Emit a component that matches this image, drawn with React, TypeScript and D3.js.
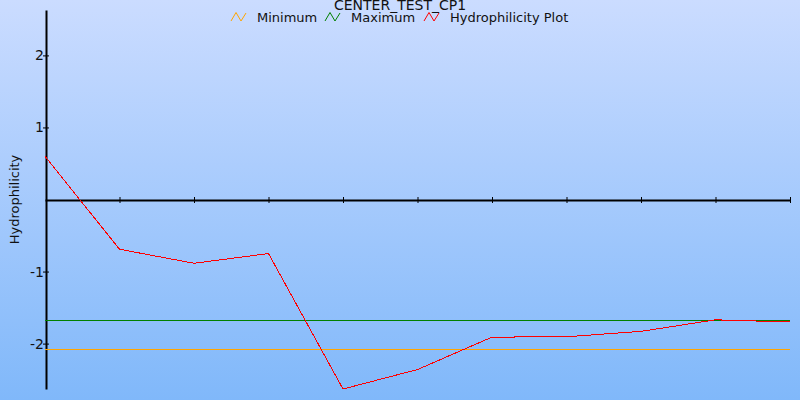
import { useEffect, useRef } from 'react';
import * as d3 from 'd3';

const title = 'CENTER_TEST_CP1';
const yLabel = 'Hydrophilicity';
const positions = [0, 1, 2, 3, 4, 5, 6, 7, 8, 9, 10];
const hydrophilicity = [0.6, -0.69, -0.885, -0.75, -2.63, -2.36, -1.91, -1.905, -1.83, -1.67, -1.7];
const minimum = [-2.08, -2.08, -2.08, -2.08, -2.08, -2.08, -2.08, -2.08, -2.08, -2.08, -2.08];
const maximum = [-1.675, -1.675, -1.675, -1.675, -1.675, -1.675, -1.675, -1.675, -1.675, -1.675, -1.675];
const yTicks = [-2, -1, 1, 2];
const legendItems = [
  { label: 'Minimum', color: '#ffa500', x: 231 },
  { label: 'Maximum', color: '#008000', x: 325 },
  { label: 'Hydrophilicity Plot', color: '#ff0000', x: 424 },
];

const width = 800;
const height = 400;

export default function App() {
  const svgRef = useRef<SVGSVGElement>(null);

  useEffect(() => {
    if (!svgRef.current) return;
    const svg = d3.select(svgRef.current);
    svg.selectAll('*').remove();

    const font = '"DejaVu Sans", Verdana, sans-serif';

    const defs = svg.append('defs');
    const grad = defs
      .append('linearGradient')
      .attr('id', 'bg')
      .attr('x1', 0)
      .attr('y1', 0)
      .attr('x2', 0)
      .attr('y2', 1);
    grad.append('stop').attr('offset', '0%').attr('stop-color', '#cbdcff');
    grad.append('stop').attr('offset', '100%').attr('stop-color', '#80b8fa');

    svg
      .append('rect')
      .attr('width', width)
      .attr('height', height)
      .attr('fill', 'url(#bg)');

    const xScale = d3.scaleLinear().domain([0, 10]).range([45, 790]);
    const yScale = d3.scaleLinear().domain([-2.63, 2.63]).range([389, 10]);

    const line = d3
      .line<number>()
      .x((_, i) => xScale(positions[i]))
      .y((d) => yScale(d));

    const series = [
      { values: minimum, color: '#ffa500' },
      { values: maximum, color: '#008000' },
      { values: hydrophilicity, color: '#ff0000' },
    ];

    // x axis along zero
    const xAxis = svg
      .append('g')
      .attr('transform', `translate(0, ${Math.round(yScale(0))})`)
      .call(
        d3
          .axisBottom(xScale)
          .tickValues(positions.slice(1))
          .tickSizeInner(3)
          .tickSizeOuter(0)
          .tickFormat(() => '')
      );
    xAxis.select('.domain').attr('stroke', '#000').attr('stroke-width', 2);
    xAxis
      .selectAll('.tick line')
      .attr('y1', -3)
      .attr('y2', 3)
      .attr('stroke', '#000');

    // y axis
    const yAxis = svg
      .append('g')
      .attr('transform', 'translate(46, 0)')
      .call(
        d3
          .axisLeft(yScale)
          .tickValues(yTicks)
          .tickSizeInner(3)
          .tickSizeOuter(0)
          .tickFormat((d) => `${d}`)
      );
    yAxis.select('.domain').attr('stroke', '#000').attr('stroke-width', 2);
    yAxis
      .selectAll('.tick line')
      .attr('x1', -3)
      .attr('x2', 3)
      .attr('stroke', '#000');
    yAxis
      .selectAll('.tick text')
      .attr('x', -2)
      .attr('font-family', font)
      .attr('font-size', 14)
      .attr('fill', '#111');

    series.forEach((s) => {
      svg
        .append('path')
        .datum(s.values)
        .attr('d', line)
        .attr('fill', 'none')
        .attr('stroke', s.color)
        .attr('stroke-width', 1)
        .attr('shape-rendering', 'crispEdges');
    });

    svg
      .append('text')
      .attr('x', 400)
      .attr('y', 10)
      .attr('text-anchor', 'middle')
      .attr('font-family', font)
      .attr('font-size', 14)
      .attr('fill', '#111')
      .text(title);

    const legend = svg.append('g');
    legendItems.forEach((item) => {
      const g = legend.append('g').attr('transform', `translate(${item.x}, 12)`);
      g.append('path')
        .attr('d', 'M0,9 L5,0.5 L10,9 L15,1')
        .attr('fill', 'none')
        .attr('stroke', item.color)
        .attr('stroke-width', 1);
      g.append('text')
        .attr('x', 26)
        .attr('y', 10)
        .attr('font-family', font)
        .attr('font-size', 13)
        .attr('fill', '#111')
        .text(item.label);
    });

    svg
      .append('text')
      .attr('transform', `translate(19, ${yScale(0)}) rotate(-90)`)
      .attr('text-anchor', 'middle')
      .attr('font-family', font)
      .attr('font-size', 13)
      .attr('fill', '#111')
      .text(yLabel);
  }, []);

  return (
    <svg
      ref={svgRef}
      width={width}
      height={height}
      style={{ position: 'absolute', left: 0, top: 0, display: 'block' }}
    ></svg>
  );
}
